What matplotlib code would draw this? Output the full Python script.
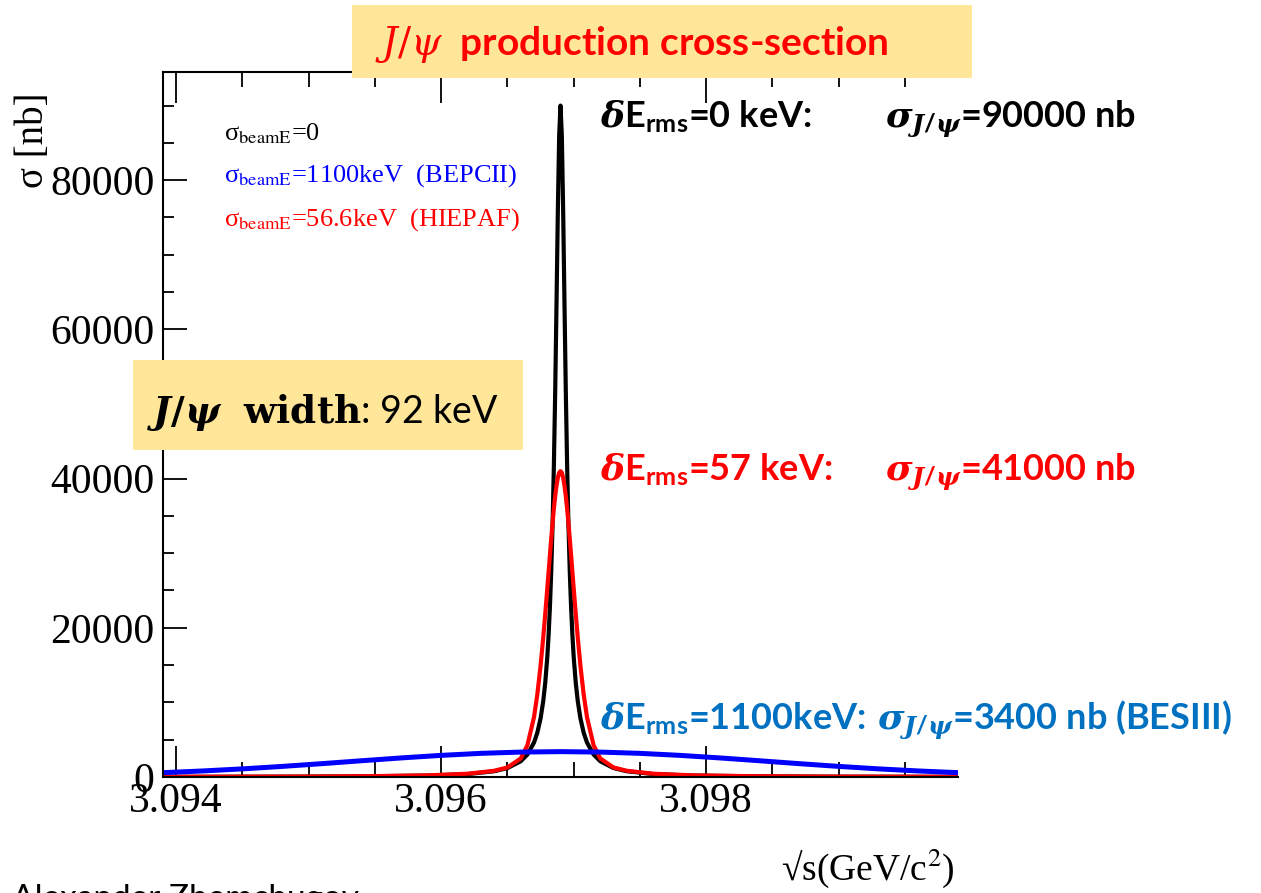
import numpy as np
import matplotlib.pyplot as plt
from matplotlib.patches import Rectangle
from matplotlib.ticker import MultipleLocator, FixedLocator, FormatStrFormatter

plt.rcParams['font.family'] = ['Liberation Serif', 'DejaVu Serif']
plt.rcParams['mathtext.fontset'] = 'custom'
plt.rcParams['mathtext.rm'] = 'Lato:bold'
plt.rcParams['mathtext.bf'] = 'Lato:bold'
plt.rcParams['mathtext.it'] = 'DejaVu Serif:italic:bold'

W, H = 1261, 893

# J/psi line shape, sigma in nb vs. distance from the peak in keV
m_jpsi = 3.0969  # GeV
peak_dE = [0, 10, 20, 30, 40, 50, 60, 70, 80, 90, 100, 115, 130, 150, 175,
           200, 250, 300, 400, 500, 700, 1000, 1500, 2000, 3000]
sigma_beam0 = [90000, 86000, 75950, 63550, 51720, 41740, 33770, 27550, 22730,
               18960, 16000, 12650, 10210, 7890, 5935, 4615, 3010, 2112, 1200,
               772, 395, 194, 86, 49, 22]
sigma_beam57 = [41000, 40780, 40120, 39060, 37650, 35950, 34020, 31920, 29720,
                27460, 25200, 21890, 18750, 14980, 11050, 8015, 4244, 2489,
                1279, 835, 438, 218, 98, 55, 25]
wide_dE = [0, 300, 600, 900, 1200, 1500, 1800, 2100, 2400, 2700, 3000]
sigma_beam1100 = [3400, 3340, 3170, 2900, 2560, 2180, 1790, 1420, 1090, 810, 580]

x_ticks = [3.094, 3.096, 3.098]
x_range = (3.0939, 3.0999)
y_max = 94500


def both_sides(dE, sig):
    dE = np.asarray(dE, float)
    sig = np.asarray(sig, float)
    d = np.r_[-dE[:0:-1], dE]
    s = np.r_[sig[:0:-1], sig]
    return m_jpsi + d * 1e-6, s


def fx(px):
    return px / W


def fy(py):
    return 1 - py / H


fig = plt.figure(figsize=(W / 100, H / 100), dpi=100)
ax = fig.add_axes([fx(163), fy(777), (958 - 163) / W, (777 - 72) / H])

x, y = both_sides(peak_dE, sigma_beam0)
ax.plot(x, y, color='black', lw=3)
x, y = both_sides(peak_dE, sigma_beam57)
ax.plot(x, y, color='red', lw=3)
x, y = both_sides(wide_dE, sigma_beam1100)
ax.plot(x, y, color='blue', lw=3.6)

ax.set_xlim(*x_range)
ax.set_ylim(0, y_max)
ax.spines['right'].set_visible(False)
for s in ['left', 'bottom', 'top']:
    ax.spines[s].set_linewidth(1.5)
ax.xaxis.set_major_locator(FixedLocator(x_ticks))
ax.xaxis.set_minor_locator(MultipleLocator(0.0005))
ax.xaxis.set_major_formatter(FormatStrFormatter('%.3f'))
ax.yaxis.set_major_locator(MultipleLocator(20000))
ax.yaxis.set_minor_locator(MultipleLocator(5000))
ax.yaxis.set_major_formatter(FormatStrFormatter('%d'))
ax.tick_params(which='both', direction='in', top=True, right=False, width=1.3)
ax.tick_params(axis='x', which='major', length=22, pad=4, labelsize=30)
ax.tick_params(axis='x', which='minor', length=11)
ax.tick_params(axis='y', which='major', length=17, pad=6, labelsize=30)
ax.tick_params(axis='y', which='minor', length=8)

fig.text(fx(33), fy(92), "σ [nb]", rotation=90, ha='center', va='top', fontsize=28)
fig.text(fx(955), fy(880), "√s(GeV/c$^{2}$)", ha='right',
         va='baseline', fontsize=27, math_fontfamily='stix')

# legend lines
legend = [("=0", 'black', 140),
          ("=1100keV  (BEPCII)", 'blue', 182),
          ("=56.6keV  (HIEPAF)", 'red', 226)]
for txt, col, py in legend:
    fig.text(fx(224), fy(py), "σ$_{\\mathrm{beamE}}$" + txt, color=col,
             fontsize=19, va='baseline', math_fontfamily='stix')

# yellow boxes
yellow = '#FFE699'
fig.add_artist(Rectangle((fx(352), fy(78)), (972 - 352) / W, (78 - 5) / H,
                         transform=fig.transFigure, facecolor=yellow,
                         edgecolor='none', zorder=5))
fig.text(fx(375), fy(55), r"$J/\psi$  production cross-section", color='red',
         family='Lato', weight='bold', fontsize=28, va='baseline',
         math_fontfamily='dejavuserif', zorder=6)

fig.add_artist(Rectangle((fx(133), fy(450)), (523 - 133) / W, (450 - 360) / H,
                         transform=fig.transFigure, facecolor=yellow,
                         edgecolor='none', zorder=5))
fig.text(fx(147), fy(423), r"$\boldsymbol{J/\psi}\ \ \mathbf{width}$: 92 keV",
         family='Lato', fontsize=27, va='baseline',
         math_fontfamily='dejavuserif', zorder=6)

# resolution notes
notes = [(r"$\delta$E$_{\mathrm{rms}}$=0 keV:", r"$\sigma_{J/\psi}$=90000 nb", 885, 'black', 128),
         (r"$\delta$E$_{\mathrm{rms}}$=57 keV:", r"$\sigma_{J/\psi}$=41000 nb", 885, 'red', 481),
         (r"$\delta$E$_{\mathrm{rms}}$=1100keV:", r"$\sigma_{J/\psi}$=3400 nb (BESIII)", 877, '#0070C0', 730)]
for left, right, px2, col, py in notes:
    fig.text(fx(600), fy(py), left, color=col, family='Lato', weight='bold',
             fontsize=26, va='baseline', math_fontfamily='custom')
    fig.text(fx(px2), fy(py), right, color=col, family='Lato', weight='bold',
             fontsize=26, va='baseline', math_fontfamily='custom')

fig.text(fx(12), fy(884), "Alexander Zhemchugov", family='Lato', fontsize=24,
         va='top')

fig.savefig('out.png', dpi=100)
